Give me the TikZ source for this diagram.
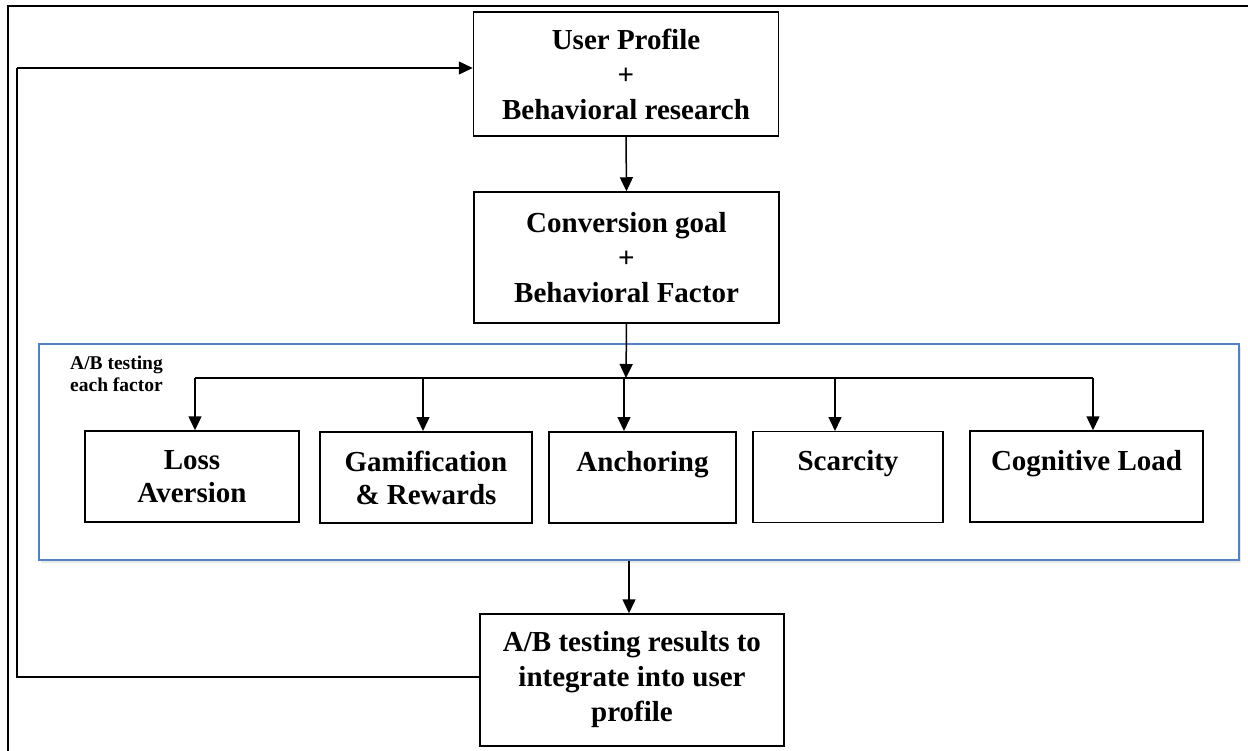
\documentclass[tikz,border=0pt]{standalone}
\usepackage{fontspec}
\setmainfont{Liberation Serif}
\usetikzlibrary{arrows.meta,shadows}
\definecolor{frameblue}{RGB}{84,130,192}
\tikzset{
  boxnode/.style={draw=black, line width=1.5pt, fill=white, align=center, inner sep=0pt,
    font=\bfseries\fontsize{29}{35}\selectfont},
  factor/.style={boxnode, minimum height=91pt, font=\bfseries\fontsize{29}{33}\selectfont},
  arr/.style={line width=1.5pt, -{Triangle[length=14pt,width=13pt]}},
  plain/.style={line width=1.5pt},
}
\begin{document}
\begin{tikzpicture}[x=1pt,y=-1pt]
\useasboundingbox (0,0) rectangle (1248,750);
\clip (0,0) rectangle (1248,750);
% outer frame
\draw[line width=1.8pt] (8,6) rectangle (1260,760);
% main boxes
\node[boxnode, minimum width=305pt, minimum height=124pt] (up) at (626,74) {User Profile\\+\\Behavioral research};
\node[boxnode, minimum width=305pt, minimum height=131pt] (conv) at (626.5,257.5) {Conversion goal\\+\\Behavioral Factor};
% container
\node[draw=frameblue, line width=1.1pt, fill=white, minimum width=1200pt, minimum height=216pt, inner sep=0pt,
  drop shadow={shadow xshift=2pt, shadow yshift=-3pt, opacity=0.18}] (abbox) at (639,452) {};
\node[anchor=north west, align=left, inner sep=0pt, font=\bfseries\fontsize{19.5}{22}\selectfont] (ablabel) at (70,356) {A/B testing\\each factor};
% factors
\node[factor, minimum width=214pt] (loss) at (192,476.5) {Loss\\Aversion};
\node[factor, minimum width=212pt] (gam) at (426,477.5) {Gamification\\\& Rewards};
\node[factor, minimum width=187pt] (anch) at (642.5,477.5) {Anchoring\\\mbox{}};
\node[factor, minimum width=190pt] (scar) at (848,477) {Scarcity\\\mbox{}};
\node[factor, minimum width=233pt] (cog) at (1086.5,476.5) {Cognitive Load\\\mbox{}};
% result
\node[boxnode, minimum width=304pt, minimum height=132pt] (res) at (632,680) {A/B testing results to\\integrate into user\\profile};
% connectors
\draw[arr] (up.south) -- (conv.north);
\coordinate (busM) at (626,378);
\coordinate (busL) at (195,378);
\coordinate (busR) at (1093,378);
\draw[arr] (conv.south) -- (busM);
\draw[plain] (busL) -- (busR);
\draw[arr] (busL) -- (busL |- loss.north);
\draw[arr] (423,378) -- (423,431);
\draw[arr] (624,378) -- (624,431);
\draw[arr] (835,378) -- (835,431);
\draw[arr] (busR) -- (busR |- cog.north);
\draw[arr] (abbox.south -| 629,0) -- (res.north -| 629,0);
\coordinate (fbB) at (17,677);
\coordinate (fbT) at (17,68);
\draw[plain] (res.west |- fbB) -- (fbB) -- (fbT);
\draw[arr] (fbT) -- (up.west |- fbT);
\end{tikzpicture}
\end{document}
